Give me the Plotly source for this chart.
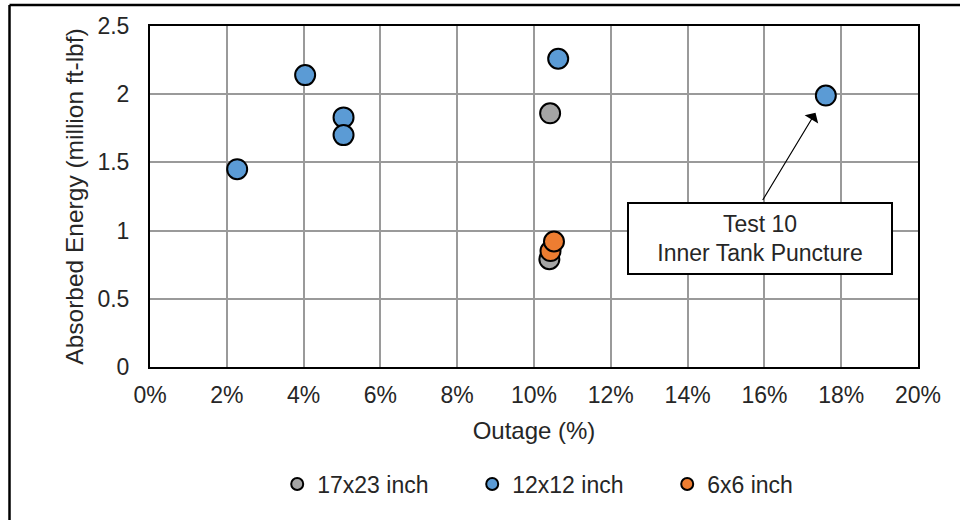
import plotly.graph_objects as go

# Outage (fraction) and absorbed energy (million ft-lbf) per impactor size
outage_17x23 = [0.1042, 0.1040]
energy_17x23 = [1.86, 0.79]

outage_12x12 = [0.0227, 0.0404, 0.0504, 0.0504, 0.1063, 0.1760]
energy_12x12 = [1.45, 2.14, 1.83, 1.70, 2.26, 1.99]

outage_6x6 = [0.1043, 0.1052]
energy_6x6 = [0.85, 0.92]

series_names = ["17x23 inch", "12x12 inch", "6x6 inch"]
series_colors = ["#A5A5A5", "#5B9BD5", "#ED7D31"]

x_ticks = [0, 0.02, 0.04, 0.06, 0.08, 0.10, 0.12, 0.14, 0.16, 0.18, 0.20]
y_ticks = [0, 0.5, 1, 1.5, 2, 2.5]

FONT = "Arial, Liberation Sans, sans-serif"
TXT = "#262626"

fig = go.Figure()
for name, xs, ys, col in zip(
    series_names,
    [outage_17x23, outage_12x12, outage_6x6],
    [energy_17x23, energy_12x12, energy_6x6],
    series_colors,
):
    fig.add_trace(go.Scatter(
        x=xs, y=ys, mode="markers", name=name,
        marker=dict(size=20, color=col, line=dict(color="black", width=2)),
    ))

# Plot area in pixels
L, R, T, B = 150, 42, 26, 153
W, H = 960, 520
pw, ph = W - L - R, H - T - B

def px_to_paper(px, py):
    return (px - L) / pw, (H - B - py) / ph

# outer chart frame: left and top edges
fx0, fy1 = px_to_paper(9.5, 5)
fx1, fy0 = px_to_paper(W + 20, H + 20)
_, leg_y = px_to_paper(0, 484)

frame = dict(type="line", xref="paper", yref="paper",
             line=dict(color="black", width=2.5), layer="above")

fig.update_layout(
    width=W, height=H,
    margin=dict(l=L, r=R, t=T, b=B),
    paper_bgcolor="white", plot_bgcolor="white",
    font=dict(family=FONT, size=23, color=TXT),
    showlegend=True,
    legend=dict(
        orientation="h", x=0.5465, xanchor="center", y=leg_y, yanchor="middle",
        itemsizing="constant", font=dict(size=23, color=TXT),
        entrywidth=150, itemwidth=30,
    ),
    xaxis=dict(
        range=[0, 0.2], tickvals=x_ticks, tickformat=".0%",
        showgrid=True, gridcolor="#9a9a9a", gridwidth=2,
        showline=True, linecolor="black", linewidth=2, mirror=True,
        zeroline=False, ticks="", ticklabelstandoff=6,
        title=dict(text="Outage (%)", standoff=16, font=dict(size=24)),
    ),
    yaxis=dict(
        range=[0, 2.5], tickvals=y_ticks,
        showgrid=True, gridcolor="#9a9a9a", gridwidth=2,
        showline=True, linecolor="black", linewidth=2, mirror=True,
        zeroline=False, ticks="", ticklabelstandoff=14,
        title=dict(text="Absorbed Energy (million ft-lbf)", standoff=7, font=dict(size=24.5)),
    ),
    shapes=[
        dict(frame, x0=fx0, x1=fx0, y0=fy0, y1=fy1),
        dict(frame, x0=fx0, x1=fx1, y0=fy1, y1=fy1),
    ],
)

# arrow to the Test 10 point
fig.add_annotation(
    x=0.1760, y=1.99, xref="x", yref="y", text="",
    showarrow=True, ax=-64, ay=106, arrowhead=1, arrowsize=2.2, arrowwidth=1.2,
    arrowcolor="black", standoff=20,
)
# callout box
fig.add_annotation(
    x=0.15885, y=0.94, xref="x", yref="y",
    text="Test 10<br>Inner Tank Puncture", showarrow=False,
    xanchor="center", yanchor="middle", width=262, height=69,
    bgcolor="white", bordercolor="black", borderwidth=2, borderpad=0,
    font=dict(size=23, color=TXT),
)

fig.write_html(
    "out.html",
    config={"displayModeBar": False},
    post_script="document.documentElement.style.overflow='hidden';document.body.style.overflow='hidden';",
)
